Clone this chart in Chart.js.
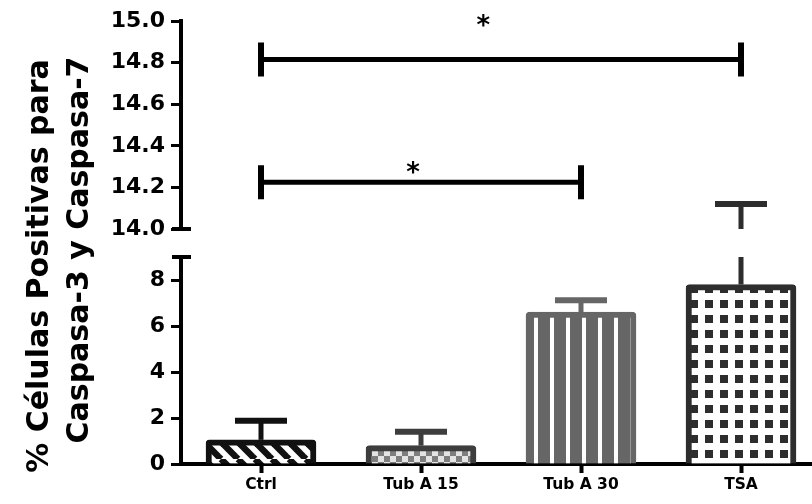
<!DOCTYPE html>
<html>
<head>
<meta charset="utf-8">
<script src="https://cdn.jsdelivr.net/npm/chart.js@4.4.0/dist/chart.umd.min.js"></script>
<style>
  html, body { margin: 0; padding: 0; background: #fff; overflow: hidden; }
</style>
</head>
<body>
<canvas id="chart" width="821" height="504"></canvas>
<script>
// data
const categories = ['Ctrl', 'Tub A 15', 'Tub A 30', 'TSA'];
const means = [1.05, 0.8, 6.6, 7.8];
const errTop = [1.88, 1.40, 7.12, 14.12];
const lowTicks = [0, 2, 4, 6, 8];
const highTicks = [14.0, 14.2, 14.4, 14.6, 14.8, 15.0];
const bracketFrom = [0, 0];
const bracketTo = [3, 2];
const bracketLevel = [14.815, 14.225];
const starLabels = ['*', '*'];
const starX = [1.39, 0.95];
const starLevel = [15.005, 14.30];

const FONT = 'DejaVu Sans';

function makePattern(w, h, draw) {
  const c = document.createElement('canvas');
  c.width = w; c.height = h;
  const g = c.getContext('2d');
  draw(g, w, h);
  return g.createPattern(c, 'repeat');
}

const ctx = document.getElementById('chart').getContext('2d');

const stripes = makePattern(17, 17, (g, s) => {
  g.fillStyle = '#fff';
  g.fillRect(0, 0, s, s);
  g.strokeStyle = '#111';
  g.lineWidth = 6.5;
  for (let k = -1; k <= 1; k++) {
    g.beginPath();
    g.moveTo(k * s, 0);
    g.lineTo(k * s + s, s);
    g.stroke();
  }
});
const checks = makePattern(12, 12, (g) => {
  g.fillStyle = '#e4e4e4';
  g.fillRect(0, 0, 12, 12);
  g.fillStyle = '#7e7e7e';
  g.fillRect(0, 0, 6, 6);
  g.fillRect(6, 6, 6, 6);
});
const vlines = makePattern(16, 4, (g) => {
  g.fillStyle = '#666';
  g.fillRect(0, 0, 16, 4);
  g.fillStyle = '#fff';
  g.fillRect(6, 0, 4, 4);
});
const squares = makePattern(15, 15, (g) => {
  g.fillStyle = '#fff';
  g.fillRect(0, 0, 15, 15);
  g.fillStyle = '#2d2d2d';
  g.fillRect(0, 0, 8, 8);
});

const fills = [stripes, checks, vlines, squares];
const edges = ['#111', '#3d3d3d', '#666', '#2d2d2d'];

const extras = {
  id: 'extras',
  afterDatasetsDraw(chart) {
    const c = chart.ctx;
    const x = chart.scales.x, lo = chart.scales.yLow, hi = chart.scales.yHigh;
    c.save();
    c.lineCap = 'butt';

    // error bars (upper side only)
    means.forEach((m, i) => {
      const px = x.getPixelForValue(i);
      c.strokeStyle = edges[i];
      c.lineWidth = 5;
      const e = errTop[i];
      let capY;
      c.beginPath();
      if (e <= lo.max) {
        capY = lo.getPixelForValue(e);
        c.moveTo(px, lo.getPixelForValue(m));
        c.lineTo(px, capY);
      } else {
        capY = hi.getPixelForValue(e);
        c.moveTo(px, lo.getPixelForValue(m));
        c.lineTo(px, lo.getPixelForValue(lo.max));
        c.moveTo(px, hi.getPixelForValue(hi.min));
        c.lineTo(px, capY);
      }
      c.stroke();
      c.lineWidth = 6;
      c.beginPath();
      c.moveTo(px - 26, capY);
      c.lineTo(px + 26, capY);
      c.stroke();
    });

    // significance brackets
    c.strokeStyle = '#000';
    bracketLevel.forEach((lv, i) => {
      const y = hi.getPixelForValue(lv);
      const x1 = x.getPixelForValue(bracketFrom[i]);
      const x2 = x.getPixelForValue(bracketTo[i]);
      c.lineWidth = 5;
      c.beginPath();
      c.moveTo(x1, y); c.lineTo(x2, y);
      c.stroke();
      c.lineWidth = 6;
      c.beginPath();
      c.moveTo(x1, y - 17); c.lineTo(x1, y + 17);
      c.moveTo(x2, y - 17); c.lineTo(x2, y + 17);
      c.stroke();
    });
    c.fillStyle = '#000';
    c.font = 'bold 26px "' + FONT + '"';
    c.textAlign = 'center';
    c.textBaseline = 'alphabetic';
    starLabels.forEach((s, i) => {
      c.fillText(s, x.getPixelForValue(starX[i]), hi.getPixelForValue(starLevel[i]) + 14);
    });

    // axis break caps
    const ax = chart.chartArea.left;
    c.lineWidth = 4;
    c.beginPath();
    c.moveTo(ax - 9, hi.getPixelForValue(hi.min)); c.lineTo(ax + 10, hi.getPixelForValue(hi.min));
    c.moveTo(ax - 9, lo.getPixelForValue(lo.max)); c.lineTo(ax + 10, lo.getPixelForValue(lo.max));
    c.stroke();

    // y axis title
    c.font = 'bold 30px "' + FONT + '"';
    c.textBaseline = 'middle';
    c.save(); c.translate(40, 266); c.rotate(-Math.PI / 2);
    c.fillText('% Células Positivas para', 0, 0); c.restore();
    c.save(); c.translate(80, 250); c.rotate(-Math.PI / 2);
    c.fillText('Caspasa-3 y Caspasa-7', 0, 0); c.restore();
    c.restore();
  }
};

const tickFont = { family: FONT, weight: 'bold', size: 22 };
const yCommon = {
  type: 'linear',
  position: 'left',
  stack: 'y',
  grid: { drawOnChartArea: false, tickLength: 10, tickWidth: 3, tickColor: '#000' },
  border: { width: 4, color: '#000' },
  ticks: { font: tickFont, color: '#000', padding: 6, autoSkip: false },
  afterFit: s => { s.width = 181; }
};

new Chart(ctx, {
  type: 'bar',
  data: {
    labels: categories,
    datasets: [{
      data: means,
      yAxisID: 'yLow',
      backgroundColor: fills,
      borderColor: edges,
      borderWidth: 6,
      borderSkipped: 'start',
      borderRadius: { topLeft: 4, topRight: 4 },
      barThickness: 110
    }]
  },
  options: {
    responsive: false,
    animation: false,
    events: [],
    devicePixelRatio: 1,
    layout: { padding: { top: 21, left: 0, right: 0, bottom: 0 } },
    plugins: { legend: { display: false }, tooltip: { enabled: false } },
    scales: {
      x: {
        type: 'category',
        offset: true,
        grid: { drawOnChartArea: false, offset: false, tickLength: 9, tickWidth: 4, tickColor: '#000' },
        border: { width: 4, color: '#000' },
        ticks: { font: { family: FONT, weight: 'bold', size: 15.5 }, color: '#000', padding: 3, autoSkip: false },
        afterFit: s => { s.height = 40; }
      },
      yHigh: Object.assign({}, yCommon, {
        weight: 3, stackWeight: 208, min: 14, max: 15,
        afterBuildTicks: s => { s.ticks = highTicks.map(v => ({ value: v })); },
        ticks: Object.assign({}, yCommon.ticks, { callback: v => Number(v).toFixed(1) })
      }),
      yGap: {
        type: 'linear', position: 'left', stack: 'y', weight: 2, stackWeight: 28,
        min: 0, max: 1,
        grid: { display: false }, border: { display: false }, ticks: { display: false },
        afterFit: s => { s.width = 181; }
      },
      yLow: Object.assign({}, yCommon, {
        weight: 1, stackWeight: 207, min: 0, max: 9,
        afterBuildTicks: s => { s.ticks = lowTicks.map(v => ({ value: v })); },
        ticks: Object.assign({}, yCommon.ticks, { callback: v => String(v) })
      })
    }
  },
  plugins: [extras]
});
</script>
</body>
</html>
